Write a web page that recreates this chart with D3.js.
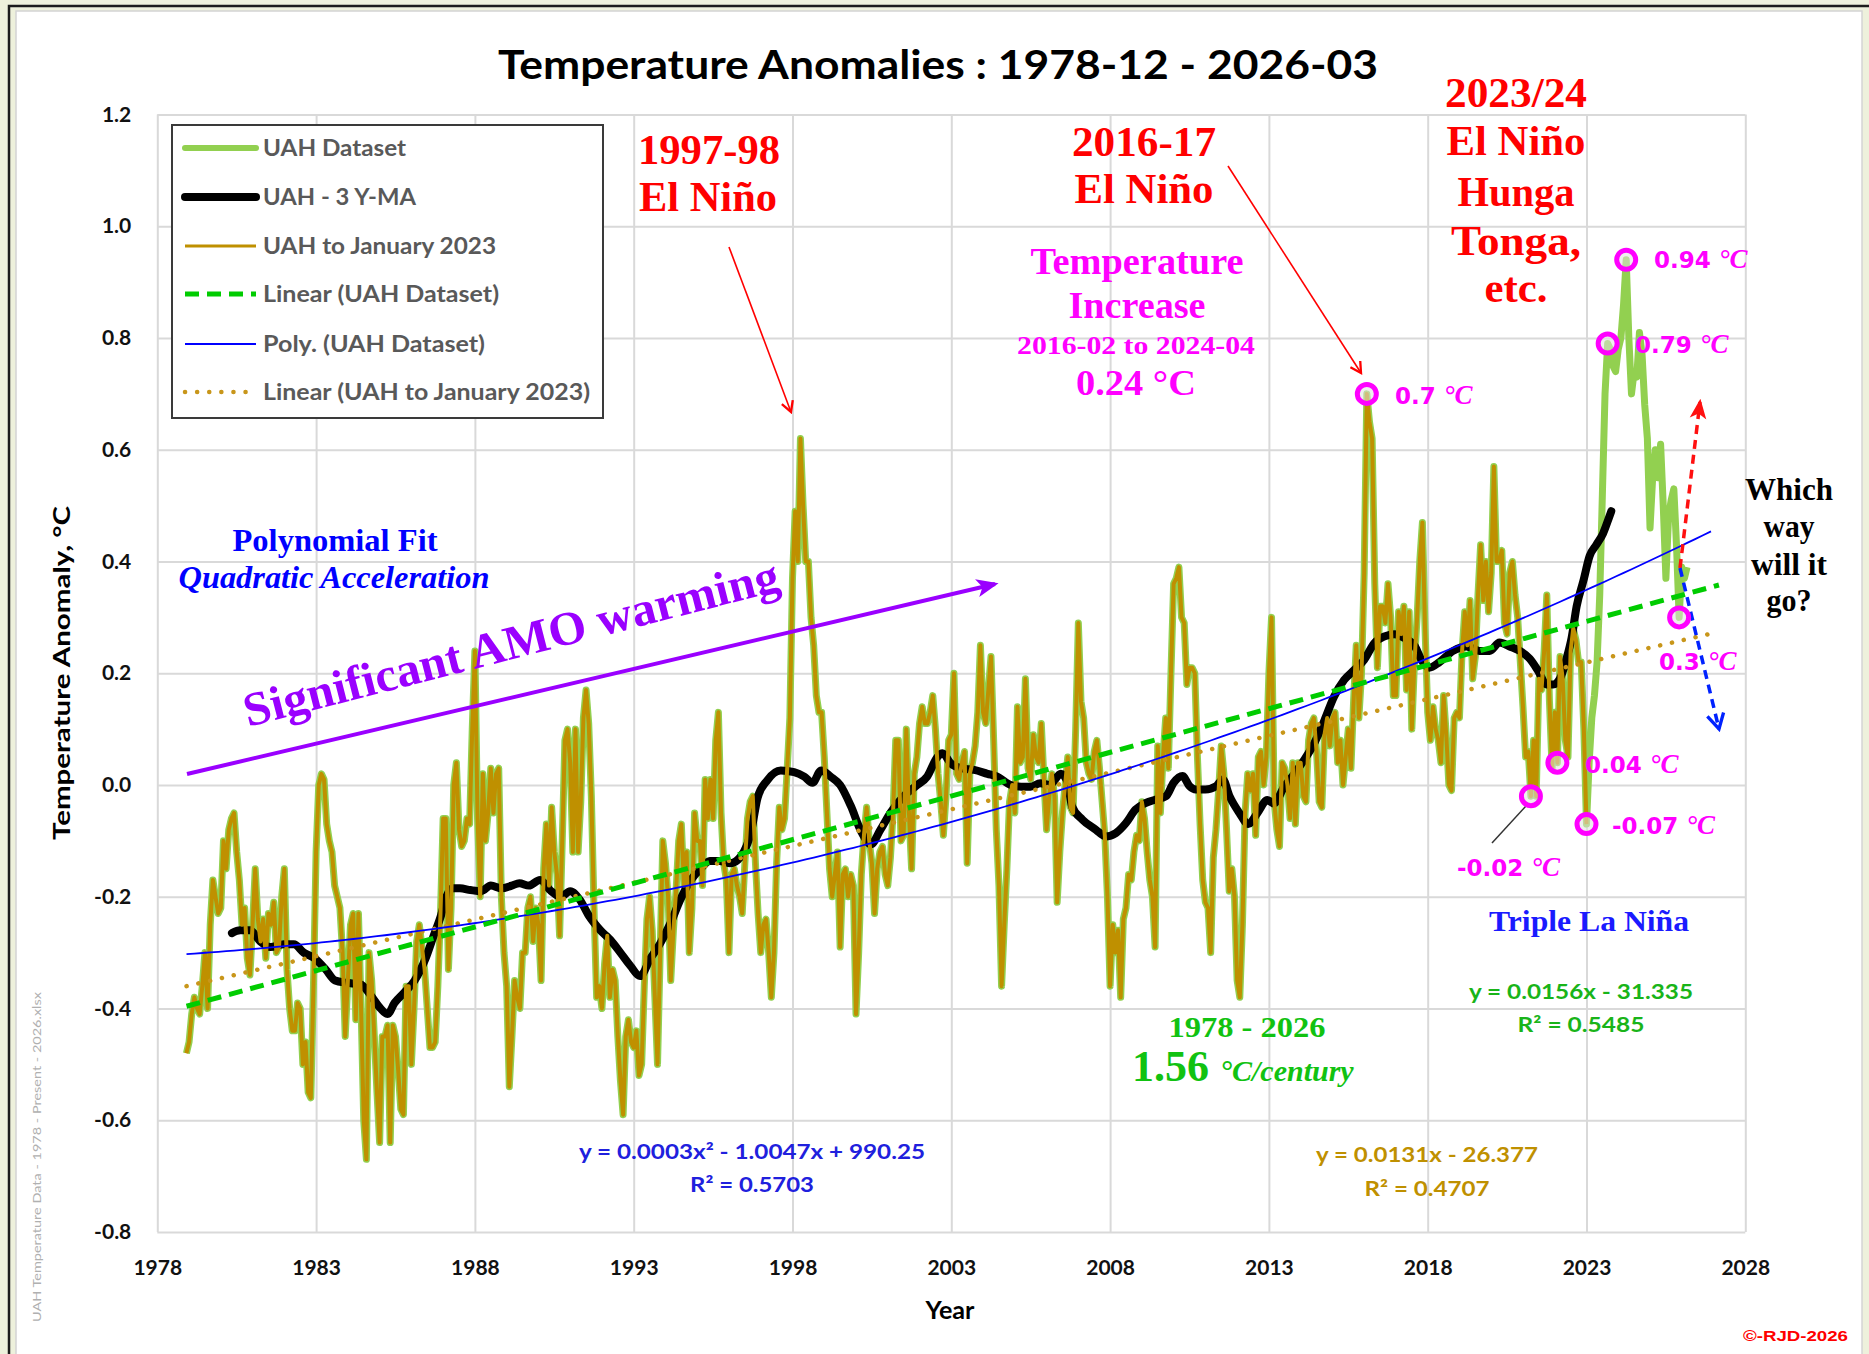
<!DOCTYPE html>
<html>
<head>
<meta charset="utf-8">
<title>Temperature Anomalies : 1978-12 - 2026-03</title>
<script src="https://cdn.jsdelivr.net/npm/d3@7/dist/d3.min.js"></script>
<style>
  html, body { margin: 0; padding: 0; background: #eef1dc; }
  svg { display: block; }
</style>
</head>
<body>
<svg id="chart" width="1869" height="1354"></svg>
<script>
// ===================== DATA =====================
const startYear = 1978;
const startMonth = 12;           // first value = December 1978
// UAH monthly anomalies, one row per calendar year
const uahMonthly = [
  -0.48,                                                                   // 1978 Dec
  -0.46,-0.41,-0.38,-0.40,-0.41,-0.36,-0.30,-0.40,-0.25,-0.17,-0.20,-0.23, // 1979
  -0.22,-0.10,-0.15,-0.08,-0.06,-0.05,-0.12,-0.17,-0.25,-0.22,-0.31,-0.34, // 1980
  -0.25,-0.15,-0.24,-0.28,-0.24,-0.31,-0.23,-0.25,-0.21,-0.30,-0.29,-0.20, // 1981
  -0.15,-0.33,-0.40,-0.44,-0.44,-0.39,-0.40,-0.50,-0.46,-0.55,-0.56,-0.36, // 1982
  -0.12, 0.00, 0.02, 0.01,-0.07,-0.10,-0.12,-0.18,-0.20,-0.22,-0.30,-0.45, // 1983
  -0.35,-0.25,-0.23,-0.42,-0.23,-0.40,-0.60,-0.67,-0.30,-0.35,-0.45,-0.55, // 1984
  -0.64,-0.45,-0.45,-0.43,-0.64,-0.43,-0.45,-0.51,-0.58,-0.59,-0.36,-0.36, // 1985
  -0.50,-0.40,-0.28,-0.25,-0.29,-0.33,-0.40,-0.47,-0.47,-0.46,-0.36,-0.23, // 1986
  -0.06,-0.06,-0.33,-0.22, 0.00, 0.04,-0.08,-0.11,-0.10,-0.06,-0.07, 0.10, // 1987
   0.24,-0.06,-0.20, 0.02,-0.10,-0.05, 0.03,-0.05, 0.02, 0.03,-0.20,-0.30, // 1988
  -0.36,-0.54,-0.45,-0.35,-0.38,-0.40,-0.30,-0.30,-0.22,-0.20,-0.28,-0.22, // 1989
  -0.25,-0.35,-0.15,-0.07,-0.18,-0.04,-0.12,-0.16,-0.27,-0.10, 0.08, 0.10, // 1990
   0.04,-0.12, 0.10,-0.12,-0.03, 0.12, 0.17, 0.11,-0.02,-0.22,-0.38,-0.36, // 1991
  -0.40,-0.32,-0.27,-0.38,-0.33,-0.35,-0.45,-0.53,-0.59,-0.45,-0.42,-0.46, // 1992
  -0.47,-0.44,-0.52,-0.50,-0.36,-0.24,-0.20,-0.26,-0.38,-0.50,-0.30,-0.10, // 1993
  -0.14,-0.20,-0.35,-0.26,-0.19,-0.10,-0.07,-0.18,-0.12,-0.30,-0.22,-0.05, // 1994
  -0.10,-0.10,-0.18, 0.01,-0.06, 0.01,-0.06, 0.08, 0.13,-0.05,-0.14,-0.17, // 1995
  -0.30,-0.16,-0.15,-0.18,-0.20,-0.23,-0.14,-0.06,-0.03,-0.02,-0.14,-0.23, // 1996
  -0.30,-0.25,-0.24,-0.30,-0.38,-0.30,-0.14,-0.04,-0.08,-0.06, 0.03, 0.12, // 1997
   0.37, 0.49, 0.40, 0.62, 0.50, 0.40, 0.40, 0.30, 0.25, 0.16, 0.13, 0.13, // 1998
   0.05,-0.05,-0.15,-0.20,-0.16,-0.12,-0.29,-0.16,-0.15,-0.20,-0.16,-0.18, // 1999
  -0.41,-0.30,-0.16,-0.09,-0.04,-0.10,-0.14,-0.23,-0.15,-0.12,-0.11,-0.16, // 2000
  -0.18,-0.13,-0.05, 0.08, 0.08,-0.10,-0.09, 0.10,-0.05,-0.15, 0.02, 0.05, // 2001
   0.11, 0.14, 0.11, 0.11, 0.13, 0.16, 0.10, 0.02,-0.03,-0.09,-0.02, 0.08, // 2002
   0.09, 0.20, 0.02, 0.01, 0.04, 0.06,-0.14, 0.02, 0.04, 0.07, 0.13, 0.25, // 2003
   0.13, 0.11, 0.17, 0.23, 0.08,-0.08,-0.18,-0.36,-0.25,-0.15,-0.03, 0.00, // 2004
  -0.05, 0.14, 0.04, 0.05, 0.19, 0.03, 0.01, 0.09, 0.05, 0.04, 0.11, 0.01, // 2005
  -0.08,-0.02, 0.02,-0.02,-0.21,-0.12,-0.05, 0.00, 0.05,-0.04,-0.05, 0.10, // 2006
   0.29, 0.15, 0.12, 0.04, 0.02, 0.01, 0.06, 0.08, 0.03,-0.03,-0.09,-0.20, // 2007
  -0.36,-0.25,-0.30,-0.26,-0.38,-0.24,-0.22,-0.16,-0.17,-0.12,-0.09,-0.10, // 2008
  -0.03,-0.06,-0.12,-0.17,-0.20,-0.29, 0.07,-0.05, 0.05, 0.12, 0.03, 0.20, // 2009
   0.36, 0.37, 0.39, 0.30, 0.29, 0.18, 0.21, 0.21, 0.20, 0.05,-0.07,-0.17, // 2010
  -0.21,-0.22,-0.30,-0.13,-0.08,-0.01, 0.07, 0.02,-0.08,-0.19,-0.15,-0.20, // 2011
  -0.35,-0.38,-0.25,-0.05, 0.02,-0.01, 0.02,-0.09, 0.05, 0.06, 0.00, 0.05, // 2012
   0.20, 0.30,-0.03,-0.08,-0.11, 0.04, 0.03, 0.00,-0.06, 0.04,-0.07, 0.04, // 2013
   0.04,-0.02,-0.03, 0.08, 0.11, 0.12, 0.06,-0.03,-0.04, 0.09, 0.12, 0.07, // 2014
   0.12, 0.13, 0.04, 0.08, 0.00, 0.05, 0.10, 0.03, 0.15, 0.25, 0.12, 0.20, // 2015
   0.38, 0.70, 0.65, 0.62, 0.36, 0.21, 0.32, 0.32, 0.29, 0.36, 0.30, 0.16, // 2016
   0.16, 0.31, 0.27, 0.32, 0.17, 0.31, 0.10, 0.22, 0.30, 0.40, 0.47, 0.28, // 2017
   0.13, 0.08, 0.14, 0.10, 0.08, 0.04, 0.16, 0.09, 0.00,-0.01, 0.12, 0.13, // 2018
   0.12, 0.24, 0.31, 0.25, 0.33, 0.19, 0.23, 0.34, 0.43, 0.33, 0.40, 0.31, // 2019
   0.38, 0.57, 0.40, 0.40, 0.42, 0.29, 0.27, 0.38, 0.40, 0.34, 0.30, 0.22, // 2020
   0.14, 0.05, 0.06,-0.02, 0.08,-0.02, 0.19, 0.17, 0.24, 0.34, 0.15, 0.03, // 2021
   0.13, 0.04, 0.23, 0.19, 0.08, 0.05, 0.24, 0.28, 0.26, 0.22, 0.22, 0.10, // 2022
  -0.07, 0.04, 0.12, 0.16, 0.22, 0.34, 0.52, 0.70, 0.79, 0.78, 0.75, 0.74, // 2023
   0.78, 0.80, 0.86, 0.94, 0.80, 0.70, 0.74, 0.73, 0.81, 0.77, 0.68, 0.62, // 2024
   0.46, 0.55, 0.60, 0.55, 0.61, 0.50, 0.37, 0.48, 0.51, 0.53, 0.43, 0.30, // 2025
   0.39, 0.37, 0.39                                                        // 2026 Jan-Mar
];
const jan2023Index = 529;        // "UAH to January 2023" ends here

// 3-year moving average
const ma3yYears = [1980.35,1980.61,1980.93,1981.24,1981.56,1981.98,1982.30,1982.61,1982.95,1983.30,
  1983.60,1983.95,1984.40,1984.70,1985.03,1985.25,1985.47,1985.80,1986.10,1986.45,1986.70,1986.93,
  1987.10,1987.30,1987.53,1987.86,1988.20,1988.50,1988.84,1989.16,1989.40,1989.70,1990.05,1990.40,
  1990.70,1991.00,1991.30,1991.60,1991.95,1992.26,1992.58,1992.90,1993.20,1993.53,1993.84,1994.16,
  1994.47,1994.80,1995.10,1995.40,1995.70,1996.05,1996.37,1996.70,1996.90,1997.20,1997.63,1998.05,
  1998.37,1998.63,1998.90,1999.20,1999.50,1999.84,2000.16,2000.47,2000.77,2001.08,2001.50,2001.93,
  2002.24,2002.56,2002.72,2002.98,2003.30,2003.72,2004.14,2004.45,2004.87,2005.20,2005.50,2005.80,
  2006.10,2006.45,2006.66,2006.80,2007.13,2007.55,2007.86,2008.18,2008.50,2008.80,2009.13,2009.44,
  2009.76,2010.00,2010.28,2010.50,2010.70,2011.00,2011.34,2011.55,2011.76,2012.07,2012.35,2012.64,
  2012.95,2013.16,2013.48,2013.80,2014.11,2014.43,2014.75,2015.05,2015.37,2015.69,2016.00,2016.32,
  2016.64,2016.95,2017.27,2017.60,2017.80,2018.05,2018.37,2018.80,2019.21,2019.63,2019.95,2020.26,
  2020.58,2020.90,2021.21,2021.48,2021.74,2021.95,2022.16,2022.37,2022.53,2022.69,2022.90,2023.10,
  2023.31,2023.52,2023.68,2023.78];
const ma3yValues = [-0.265,-0.26,-0.26,-0.28,-0.29,-0.285,-0.285,-0.30,-0.31,-0.33,
  -0.35,-0.354,-0.357,-0.375,-0.40,-0.41,-0.39,-0.37,-0.35,-0.31,-0.27,-0.234,
  -0.20,-0.185,-0.185,-0.188,-0.19,-0.18,-0.185,-0.18,-0.176,-0.18,-0.17,-0.19,
  -0.20,-0.19,-0.205,-0.235,-0.26,-0.277,-0.30,-0.324,-0.342,-0.31,-0.283,-0.247,
  -0.205,-0.17,-0.15,-0.136,-0.136,-0.14,-0.128,-0.083,-0.023,0.008,0.026,0.023,
  0.015,0.004,0.026,0.015,0.0,-0.038,-0.083,-0.106,-0.08,-0.05,-0.02,0.0,
  0.015,0.05,0.057,0.039,0.03,0.027,0.02,0.015,0.0,-0.003,-0.003,0.003,
  0.0,0.02,0.005,-0.038,-0.062,-0.08,-0.092,-0.086,-0.068,-0.044,-0.032,-0.026,
  -0.02,0.004,0.016,-0.002,-0.008,-0.008,-0.002,0.01,-0.02,-0.05,-0.07,-0.05,
  -0.027,-0.033,-0.003,0.02,0.045,0.075,0.116,0.158,0.188,0.206,0.224,0.254,
  0.266,0.27,0.263,0.248,0.224,0.21,0.22,0.24,0.248,0.24,0.24,0.255,
  0.248,0.24,0.226,0.204,0.18,0.18,0.19,0.226,0.263,0.32,0.365,0.41,
  0.43,0.45,0.474,0.49];

// axis ticks
const xTickValues = [1978, 1983, 1988, 1993, 1998, 2003, 2008, 2013, 2018, 2023, 2028];
const yTickValues = [-0.8, -0.6, -0.4, -0.2, 0.0, 0.2, 0.4, 0.6, 0.8, 1.0, 1.2];

// trend lines (end points; quadratic centred on polyCentre)
const linearAllYears = [1978.92, 2027.17];
const linearAllValues = [-0.396, 0.358];
const linearJanYears = [1978.92, 2027.0];
const linearJanValues = [-0.36, 0.272];
const polyCoefs = [0.000248, 0.0158, -0.066];
const polyCentre = 2003;
const polyYearRange = [1978.92, 2027.07];

// highlighted months (index into uahMonthly) and their labels
const markedIndex = [446, 537, 544, 564, 518, 529, 508];
const markedLabels = ["0.7", "0.79", "0.94", "0.3", "0.04", "-0.07", "-0.02"];

const legendLabels = ["UAH Dataset", "UAH - 3 Y-MA", "UAH to January 2023",
  "Linear (UAH Dataset)", "Poly. (UAH Dataset)", "Linear (UAH to January 2023)"];

// ===================== DRAWING =====================
const W = 1869, H = 1354;
const svg = d3.select("#chart");
const SANS = "Lato, 'Open Sans', 'DejaVu Sans', sans-serif";
const SERIF = "'Liberation Serif', 'DejaVu Serif', serif";
const loc = d3.formatLocale({decimal: ".", thousands: ",", grouping: [3], currency: ["", ""], minus: "-"});

const defs = svg.append("defs");
function arrowMarker(id, color, filled, size) {
  const m = defs.append("marker").attr("id", id).attr("viewBox", "0 0 12 12")
    .attr("refX", 10).attr("refY", 6).attr("markerUnits", "userSpaceOnUse")
    .attr("markerWidth", size).attr("markerHeight", size).attr("orient", "auto");
  if (filled) m.append("path").attr("d", "M0,1 L12,6 L0,11 L3,6 Z").attr("fill", color);
  else m.append("path").attr("d", "M1,1 L10,6 L1,11").attr("fill", "none")
        .attr("stroke", color).attr("stroke-width", 2).attr("stroke-linejoin", "miter");
}
arrowMarker("arRed", "#ff0000", false, 14);
arrowMarker("arPurple", "#9a00ff", true, 22);
arrowMarker("arRedDash", "#ff1010", true, 20);
arrowMarker("arBlueDash", "#0022ff", false, 20);

// page frame
svg.append("rect").attr("width", W).attr("height", H).attr("fill", "#eef1dc");
svg.append("path").attr("d", "M9,1354 V6 H1869").attr("fill", "none")
  .attr("stroke", "#1c1c1c").attr("stroke-width", 2.5);
svg.append("rect").attr("x", 16).attr("y", 11).attr("width", 1846).attr("height", 1350)
  .attr("fill", "#ffffff").attr("stroke", "#d4d4d4").attr("stroke-width", 1.5);

// scales
const x = d3.scaleLinear().domain([1978, 2028]).range([157.3, 1745.3]);
const y = d3.scaleLinear().domain([-0.8, 1.2]).range([1232, 114.5]);
const plotW = x(2028) - x(1978), plotH = y(-0.8) - y(1.2);

// grid lines
svg.append("g").attr("transform", `translate(0,${y(-0.8)})`)
  .call(d3.axisBottom(x).tickValues(xTickValues).tickSize(-plotH).tickFormat(""))
  .call(g => g.select(".domain").remove())
  .call(g => g.selectAll("line").attr("stroke", "#d9d9d9").attr("stroke-width", 2));
svg.append("g").attr("transform", `translate(${x(1978)},0)`)
  .call(d3.axisLeft(y).tickValues(yTickValues).tickSize(-plotW).tickFormat(""))
  .call(g => g.select(".domain").remove())
  .call(g => g.selectAll("line").attr("stroke", "#d9d9d9").attr("stroke-width", 2));

// axis labels
const axL = svg.append("g").attr("transform", `translate(${x(1978)},0)`)
  .call(d3.axisLeft(y).tickValues(yTickValues).tickSize(0).tickPadding(26).tickFormat(loc.format(".1f")));
axL.select(".domain").remove();
axL.selectAll("text").attr("font-family", SANS).attr("font-weight", 700).attr("font-size", 21).attr("fill", "#111");
const axB = svg.append("g").attr("transform", `translate(0,${y(-0.8)})`)
  .call(d3.axisBottom(x).tickValues(xTickValues).tickSize(0).tickPadding(28).tickFormat(d3.format("d")));
axB.select(".domain").remove();
axB.selectAll("text").attr("font-family", SANS).attr("font-weight", 700).attr("font-size", 21).attr("fill", "#111");

function addText(str, px, py, o) {
  const t = svg.append("text").attr("x", px).attr("y", py).text(str)
    .attr("font-family", o.family || SANS).attr("font-weight", o.weight || 700)
    .attr("font-size", o.size).attr("fill", o.fill || "#000")
    .attr("text-anchor", o.anchor || "middle");
  if (o.italic) t.attr("font-style", "italic");
  if (o.len) t.attr("textLength", o.len).attr("lengthAdjust", "spacingAndGlyphs");
  if (o.transform) t.attr("transform", o.transform);
  return t;
}

// axis titles and chart title
addText("Temperature Anomalies : 1978-12 - 2026-03", 938, 79, {size: 40, len: 880});
addText("Year", 950, 1319, {size: 24, len: 49});
addText("Temperature Anomaly, °C", 0, 0, {size: 22, len: 334, transform: "translate(70,673) rotate(-90)"});
addText("UAH Temperature Data - 1978 - Present - 2026.xlsx", 0, 0,
  {size: 12, weight: 400, fill: "#b0b0b0", len: 330, transform: "translate(41,1157) rotate(-90)"});
addText("©-RJD-2026", 1848, 1341, {size: 15, fill: "#ff0000", anchor: "end", len: 105,
  family: "'Liberation Sans', Arial, sans-serif"});

// ---------- series ----------
const timeOf = i => startYear + (startMonth - 1) / 12 + i / 12;
const monthLine = d3.line().x((d, i) => x(timeOf(i))).y(d => y(d));

svg.append("path").datum(uahMonthly).attr("d", monthLine)
  .attr("fill", "none").attr("stroke", "#92d050").attr("stroke-width", 7).attr("stroke-linejoin", "round");

svg.append("path").datum(ma3yValues)
  .attr("d", d3.line().curve(d3.curveMonotoneX).x((d, i) => x(ma3yYears[i])).y(d => y(d)))
  .attr("fill", "none").attr("stroke", "#000").attr("stroke-width", 8)
  .attr("stroke-linecap", "round").attr("stroke-linejoin", "round");

svg.append("path").datum(uahMonthly.slice(0, jan2023Index + 1)).attr("d", monthLine)
  .attr("fill", "none").attr("stroke", "#bf9000").attr("stroke-width", 4).attr("stroke-linejoin", "round");

// trend lines
const pairLine = d3.line().x(d => x(d[0])).y(d => y(d[1]));
svg.append("path").attr("d", pairLine(d3.zip(linearJanYears, linearJanValues)))
  .attr("fill", "none").attr("stroke", "#c8961a").attr("stroke-width", 4.5)
  .attr("stroke-linecap", "round").attr("stroke-dasharray", "0.1,12");
const polyPts = d3.range(polyYearRange[0], polyYearRange[1] + 1e-6, 0.25).map(t => {
  const u = t - polyCentre; return [t, polyCoefs[0] * u * u + polyCoefs[1] * u + polyCoefs[2]];
});
svg.append("path").attr("d", pairLine(polyPts))
  .attr("fill", "none").attr("stroke", "#0000ff").attr("stroke-width", 1.8);
svg.append("path").attr("d", pairLine(d3.zip(linearAllYears, linearAllValues)))
  .attr("fill", "none").attr("stroke", "#00cc00").attr("stroke-width", 5).attr("stroke-dasharray", "14,8");

// ---------- legend ----------
const lg = svg.append("g");
lg.append("rect").attr("x", 172).attr("y", 125).attr("width", 431).attr("height", 293)
  .attr("fill", "#fff").attr("stroke", "#3a3a3a").attr("stroke-width", 2);
const legRowY = [148, 197, 246, 294, 344, 392];
const legTextLen = [143, 153, 233, 236, 222, 327];
const legStyles = [
  {stroke: "#92d050", w: 6, dash: null, cap: "round"},
  {stroke: "#000", w: 8, dash: null, cap: "round"},
  {stroke: "#bf9000", w: 3, dash: null, cap: "butt"},
  {stroke: "#00cc00", w: 5, dash: "14,8", cap: "butt"},
  {stroke: "#0000ff", w: 1.8, dash: null, cap: "butt"},
  {stroke: "#c8961a", w: 4.5, dash: "0.1,12", cap: "round"}
];
legendLabels.forEach((lab, i) => {
  const s = legStyles[i];
  lg.append("line").attr("x1", 185).attr("x2", 256).attr("y1", legRowY[i]).attr("y2", legRowY[i])
    .attr("stroke", s.stroke).attr("stroke-width", s.w).attr("stroke-linecap", s.cap)
    .attr("stroke-dasharray", s.dash);
  lg.append("text").attr("x", 263).attr("y", legRowY[i] + 8).text(lab)
    .attr("font-family", SANS).attr("font-weight", 700).attr("font-size", 23).attr("fill", "#595959")
    .attr("textLength", legTextLen[i]).attr("lengthAdjust", "spacingAndGlyphs");
});

// ---------- annotations ----------
// purple AMO arrow & text
svg.append("line").attr("x1", 187).attr("y1", 774).attr("x2", 995).attr("y2", 584)
  .attr("stroke", "#9a00ff").attr("stroke-width", 4).attr("marker-end", "url(#arPurple)");
addText("Significant AMO warming", 0, 0, {family: SERIF, size: 48, fill: "#9a00ff", anchor: "start",
  len: 551, transform: "translate(248,727) rotate(-14.4)"});

addText("Polynomial Fit", 335, 551, {family: SERIF, size: 31, fill: "#0000ff", len: 205});
addText("Quadratic Acceleration", 334, 588, {family: SERIF, size: 31, fill: "#0000ff", italic: true, len: 311});

// red El Niño labels and arrows
const RED = "#ff0000";
addText("1997-98", 709, 164, {family: SERIF, size: 42, fill: RED, len: 142});
addText("El Niño", 708, 211, {family: SERIF, size: 42, fill: RED, len: 138});
addText("2016-17", 1144, 156, {family: SERIF, size: 42, fill: RED, len: 144});
addText("El Niño", 1144, 203, {family: SERIF, size: 42, fill: RED, len: 139});
addText("2023/24", 1516, 107, {family: SERIF, size: 42, fill: RED, len: 142});
addText("El Niño", 1516, 155, {family: SERIF, size: 42, fill: RED, len: 139});
addText("Hunga", 1516, 206, {family: SERIF, size: 42, fill: RED, len: 117});
addText("Tonga,", 1516, 255, {family: SERIF, size: 42, fill: RED, len: 130});
addText("etc.", 1516, 302, {family: SERIF, size: 42, fill: RED, len: 63});
svg.append("line").attr("x1", 729).attr("y1", 247).attr("x2", 791).attr("y2", 412)
  .attr("stroke", RED).attr("stroke-width", 1.6).attr("marker-end", "url(#arRed)");
svg.append("line").attr("x1", 1228).attr("y1", 166).attr("x2", 1361).attr("y2", 373)
  .attr("stroke", RED).attr("stroke-width", 1.6).attr("marker-end", "url(#arRed)");

// magenta temperature increase block
const MAG = "#ff00ff";
addText("Temperature", 1137, 274, {family: SERIF, size: 37, fill: MAG, len: 213});
addText("Increase", 1137, 318, {family: SERIF, size: 37, fill: MAG, len: 137});
addText("2016-02 to 2024-04", 1136, 354, {family: SERIF, size: 25, fill: MAG, len: 238});
addText("0.24 °C", 1136, 395, {family: SERIF, size: 36, fill: MAG, len: 120});

// green rate block
const GRN = "#11c211";
addText("1978 - 2026", 1247, 1037, {family: SERIF, size: 30, fill: GRN, len: 157});
const rateT = svg.append("text").attr("y", 1081).attr("fill", GRN).attr("font-family", SERIF).attr("font-weight", 700);
rateT.append("tspan").attr("x", 1132).attr("font-size", 44).text("1.56");
rateT.append("tspan").attr("x", 1220).attr("font-size", 30).attr("font-style", "italic").text("°C/century");

// equations
addText("y = 0.0156x - 31.335", 1581, 999, {size: 21, fill: "#19b419", len: 224});
addText("R² = 0.5485", 1581, 1032, {size: 21, fill: "#19b419", len: 127});
addText("Triple La Niña", 1589, 931, {family: SERIF, size: 30, fill: "#1a1aff", len: 200});
addText("y = 0.0003x² - 1.0047x + 990.25", 752, 1159, {size: 21, fill: "#2020dd", len: 346});
addText("R² = 0.5703", 752, 1192, {size: 21, fill: "#2020dd", len: 124});
addText("y = 0.0131x - 26.377", 1427, 1162, {size: 21, fill: "#bf9000", len: 222});
addText("R² = 0.4707", 1427, 1196, {size: 21, fill: "#bf9000", len: 125});

// which way will it go
addText("Which", 1789, 500, {family: SERIF, size: 31, len: 88});
addText("way", 1789, 537, {family: SERIF, size: 31, len: 51});
addText("will it", 1789, 575, {family: SERIF, size: 31, len: 76});
addText("go?", 1789, 611, {family: SERIF, size: 31, len: 45});
svg.append("line").attr("x1", 1680).attr("y1", 568).attr("x2", 1700).attr("y2", 402)
  .attr("stroke", "#ff1010").attr("stroke-width", 3.5).attr("stroke-dasharray", "9,6")
  .attr("marker-end", "url(#arRedDash)");
svg.append("line").attr("x1", 1680).attr("y1", 568).attr("x2", 1719).attr("y2", 729)
  .attr("stroke", "#0022ff").attr("stroke-width", 3.5).attr("stroke-dasharray", "9,6")
  .attr("marker-end", "url(#arBlueDash)");

// leader line for -0.02
svg.append("line").attr("x1", 1492).attr("y1", 843).attr("x2", 1526).attr("y2", 806)
  .attr("stroke", "#333").attr("stroke-width", 1.5);

// highlighted points
svg.append("g").selectAll("circle").data(markedIndex).join("circle")
  .attr("cx", i => x(timeOf(i))).attr("cy", i => y(uahMonthly[i])).attr("r", 9.5)
  .attr("fill", "rgba(225,225,225,0.55)").attr("stroke", MAG).attr("stroke-width", 5);

// value labels (pixel placement relative to chart layout)
const labelPos = [[1395, 404], [1635, 353], [1654, 268], [1659, 670], [1585, 773], [1612, 834], [1457, 876]];
markedLabels.forEach((lab, k) => {
  const t = svg.append("text").attr("x", labelPos[k][0]).attr("y", labelPos[k][1]).attr("fill", MAG);
  t.append("tspan").attr("font-family", "'DejaVu Sans', Verdana, sans-serif").attr("font-weight", 700)
    .attr("font-size", 23).text(lab + " ");
  t.append("tspan").attr("font-family", SERIF).attr("font-weight", 700).attr("font-style", "italic")
    .attr("font-size", 27).text("°C");
});
</script>
</body>
</html>
